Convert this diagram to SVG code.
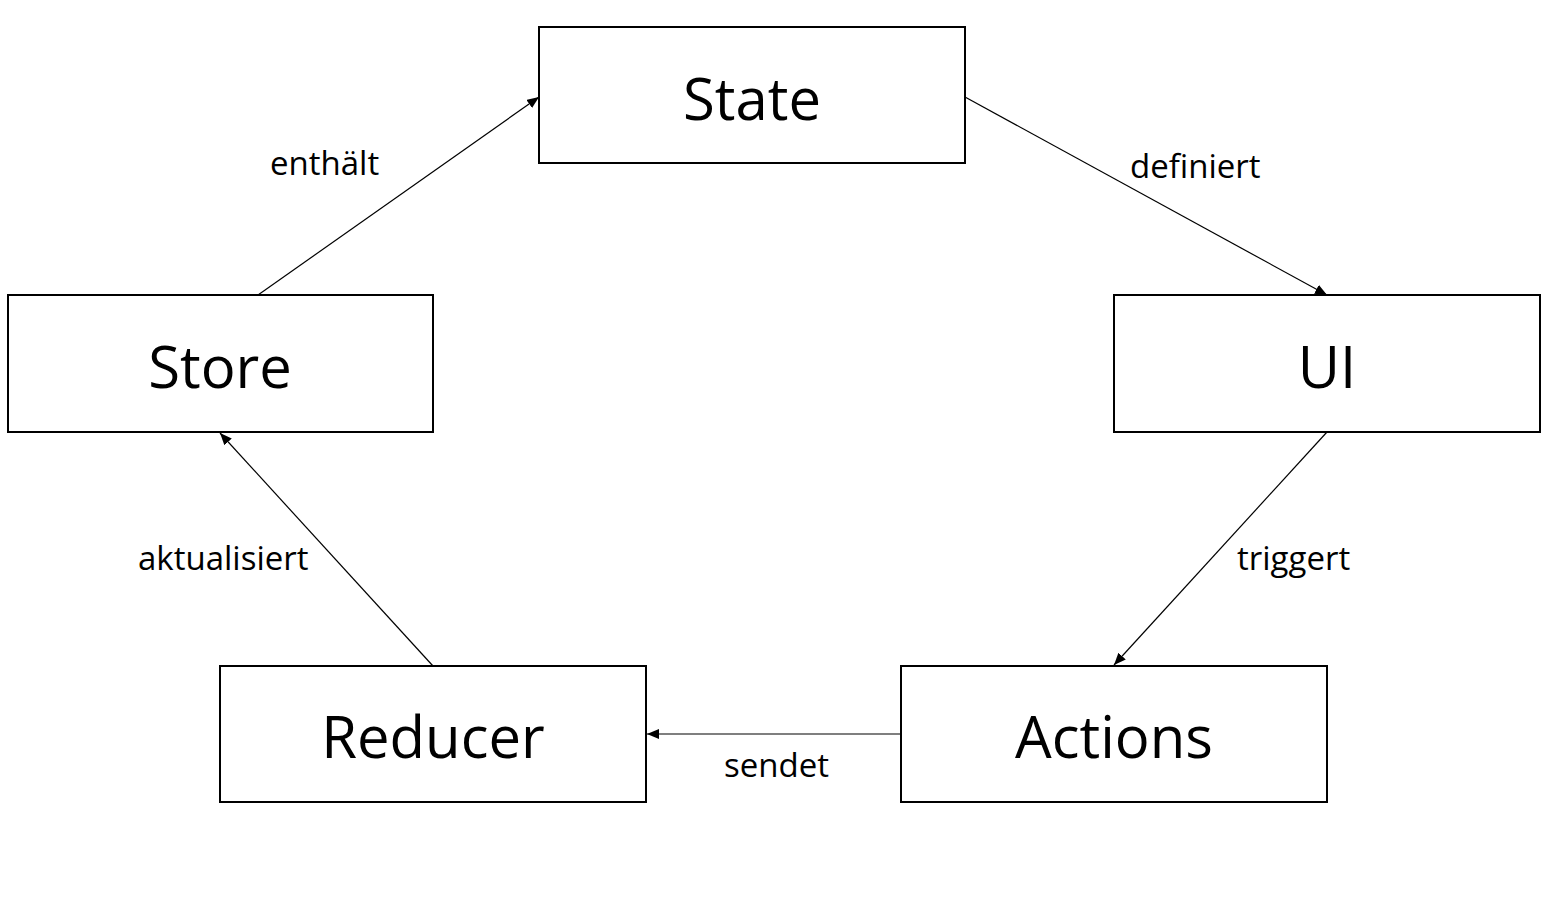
<svg xmlns="http://www.w3.org/2000/svg" width="1561" height="910" viewBox="0 0 1561 910">
<style>
.box{fill:#fff;stroke:#000;stroke-width:2}
.big{font-family:"Open Sans","Liberation Sans",sans-serif;font-size:58px;fill:#000;text-anchor:middle}
.lbl{font-family:"Open Sans","Liberation Sans",sans-serif;font-size:33px;fill:#000}
.edge{stroke:#000;stroke-width:1.2;fill:none;marker-end:url(#arr)}
</style>
<defs>
<marker id="arr" viewBox="0 0 12 10" refX="12" refY="5" markerWidth="12" markerHeight="10" markerUnits="userSpaceOnUse" orient="auto">
<path d="M0,0 L12,5 L0,10 z" fill="#000"/>
</marker>
</defs>
<rect width="1561" height="910" fill="#fff"/>
<g id="connectors">
<line class="edge" x1="258" y1="295" x2="539" y2="97"/>
<line class="edge" x1="965" y1="97" x2="1327" y2="295"/>
<line class="edge" x1="1327" y1="432" x2="1114" y2="665"/>
<line class="edge" x1="901" y1="734" x2="647" y2="734"/>
<line class="edge" x1="433" y1="666" x2="220" y2="433"/>
<text class="lbl" x="270" y="175">enthält</text>
<text class="lbl" x="1130" y="178">definiert</text>
<text class="lbl" x="1237" y="570">triggert</text>
<text class="lbl" x="138" y="570">aktualisiert</text>
<text class="lbl" x="724" y="777">sendet</text>
</g>
<g id="state"><rect class="box" x="539" y="27" width="426" height="136"/><text class="big" x="752" y="120">State</text></g>
<g id="ui"><rect class="box" x="1114" y="295" width="426" height="137"/><text class="big" x="1327" y="388">UI</text></g>
<g id="store"><rect class="box" x="8" y="295" width="425" height="137"/><text class="big" x="220" y="388">Store</text></g>
<g id="reducer"><rect class="box" x="220" y="666" width="426" height="136"/><text class="big" x="433" y="758">Reducer</text></g>
<g id="actions"><rect class="box" x="901" y="666" width="426" height="136"/><text class="big" x="1114" y="758">Actions</text></g>
</svg>
